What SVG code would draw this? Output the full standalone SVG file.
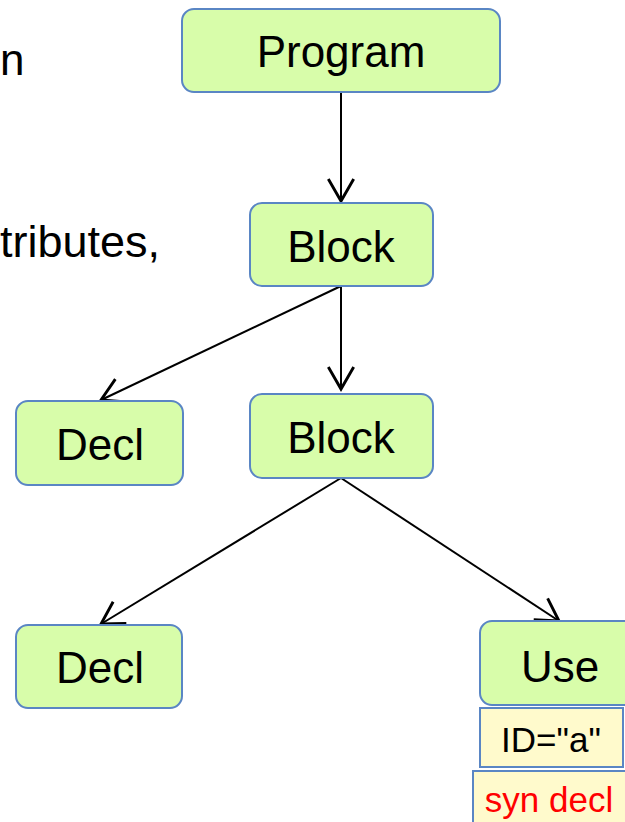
<svg xmlns="http://www.w3.org/2000/svg" width="625" height="822" viewBox="0 0 625 822">
<style>
.node rect.box{fill:#d8fdaa;stroke:#5a86c4;stroke-width:2}
.attr rect{fill:#fffacc;stroke:#5a86c4;stroke-width:2}
text{font-family:"Liberation Sans",Arial,sans-serif;fill:#000}
.lbl{font-size:44px;text-anchor:middle}
.at{font-size:35px;text-anchor:middle}
.edge{stroke:#000;stroke-width:2;fill:none;marker-end:url(#arr)}
</style>
<defs>
<marker id="arr" markerUnits="userSpaceOnUse" markerWidth="30" markerHeight="30" viewBox="-22 -13 24 26" refX="0" refY="0" orient="auto">
<path d="M-19,-11 L0,0 L-19,11" fill="none" stroke="#000" stroke-width="2.5"/>
</marker>
</defs>
<text x="0" y="75" style="font-size:44px">n</text>
<text x="0" y="257" style="font-size:45px">tributes,</text>
<g id="connectors">
<line class="edge" x1="341" y1="93" x2="341" y2="201"/>
<line class="edge" x1="341" y1="286" x2="341" y2="389"/>
<line class="edge" x1="341" y1="286" x2="101" y2="400"/>
<line class="edge" x1="341" y1="478" x2="101" y2="624"/>
<line class="edge" x1="341" y1="478" x2="559" y2="621"/>
</g>
<g id="program" class="node"><rect class="box" x="182" y="9" width="318" height="83" rx="12"/><text class="lbl" x="341" y="67">Program</text></g>
<g id="block1" class="node"><rect class="box" x="250" y="203" width="183" height="83" rx="12"/><text class="lbl" x="341" y="262">Block</text></g>
<g id="decl1" class="node"><rect class="box" x="16" y="401" width="167" height="84" rx="12"/><text class="lbl" x="100" y="460">Decl</text></g>
<g id="block2" class="node"><rect class="box" x="250" y="394" width="183" height="84" rx="12"/><text class="lbl" x="341" y="453">Block</text></g>
<g id="decl2" class="node"><rect class="box" x="16" y="625" width="166" height="83" rx="12"/><text class="lbl" x="100" y="683">Decl</text></g>
<g id="use" class="node"><rect class="box" x="480" y="621" width="160" height="84" rx="12"/><text class="lbl" x="560" y="682">Use</text></g>
<g id="id-attr" class="attr"><rect x="480" y="708" width="143" height="59"/><text class="at" x="551" y="752">ID="a"</text></g>
<g id="syn-decl" class="attr"><rect x="473" y="771" width="160" height="60"/><text class="at" x="549" y="812" style="fill:#ff0000">syn decl</text></g>
</svg>
